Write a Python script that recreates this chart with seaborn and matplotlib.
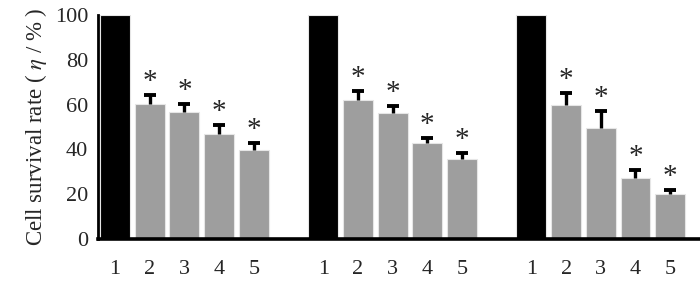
import numpy as np
import pandas as pd
import seaborn as sns
import matplotlib.pyplot as plt

# ---------------------------------------------------------
# DADES (llegides del gràfic)
# ---------------------------------------------------------
groups = ['A', 'B', 'C']
labels = ['1', '2', '3', '4', '5']
survival_a = [100, 60.4, 56.8, 46.7, 39.7]
survival_b = [100, 61.9, 56.1, 42.9, 35.6]
survival_c = [100, 59.8, 49.6, 27.2, 20.0]
err_a = [0, 3.7, 3.3, 4.2, 3.3]
err_b = [0, 4.3, 3.3, 2.3, 2.7]
err_c = [0, 5.4, 7.7, 3.6, 1.9]
signif = [False, True, True, True, True]

# ---------------------------------------------------------
# TAULA
# ---------------------------------------------------------
rows = []
for g, (vals, errs) in enumerate(zip([survival_a, survival_b, survival_c],
                                     [err_a, err_b, err_c])):
    for i, (v, e) in enumerate(zip(vals, errs)):
        rows.append({'pos': g * 6 + i, 'label': labels[i], 'val': v, 'err': e,
                     'kind': 'control' if i == 0 else 'treat', 'sig': signif[i]})
df = pd.DataFrame(rows)

sns.set_style("white")
plt.rcParams['font.family'] = ['Liberation Serif', 'DejaVu Serif']
plt.rcParams['mathtext.fontset'] = 'stix'

fig = plt.figure(figsize=(7, 2.81), dpi=100)
ax = fig.add_axes([0.14, 0.149, 0.86, 0.798])

sns.barplot(data=df, x='pos', y='val', hue='kind', native_scale=True, dodge=False,
            palette={'control': '#000000', 'treat': '#9e9e9e'},
            width=0.86, edgecolor='#e6e6e6', linewidth=0.8, legend=False, ax=ax)

# barres d'error només cap amunt (només on n'hi ha)
d_err = df[df['err'] > 0]
eb = ax.errorbar(d_err['pos'], d_err['val'], yerr=[np.zeros(len(d_err)), d_err['err']],
                 fmt='none', ecolor='black', elinewidth=2.4, capsize=4.5, capthick=2.8)
eb[1][0].set_visible(False)

# asteriscs
for _, r in df[df['sig']].iterrows():
    ax.annotate('*', (r['pos'], r['val'] + r['err']), xytext=(0, 0),
                textcoords='offset points', ha='center', va='bottom', fontsize=21)

ax.set_xlim(-0.49, 16.86)
ax.set_ylim(0, 100)
ax.set_yticks(range(0, 101, 20))
ax.set_xticks(range(0, 17))
ax.set_xticklabels([labels[p % 6] if p % 6 < 5 else '' for p in range(17)])
ax.tick_params(axis='x', direction='in', length=2, width=0.6, color='#777777',
               pad=15, labelsize=16)
ax.tick_params(axis='y', direction='in', length=3, width=1, pad=7, labelsize=16)
ax.set_xlabel('')
ax.set_ylabel(r'Cell survival rate ( $\eta$ / % )', fontsize=16.5, labelpad=4)

sns.despine(ax=ax)
ax.spines['left'].set_linewidth(2)
ax.spines['bottom'].set_linewidth(2.6)
ax.spines['left'].set_color('black')
ax.spines['bottom'].set_color('black')

plt.savefig('out.png', dpi=100)
plt.close()
